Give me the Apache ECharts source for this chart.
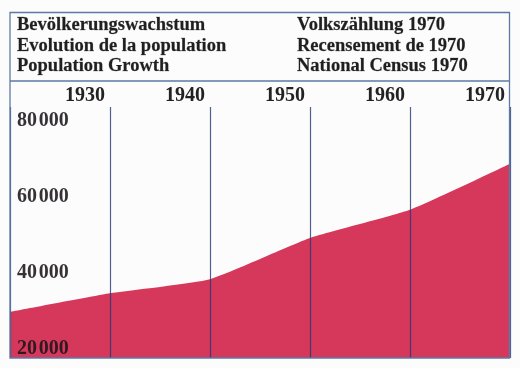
<!DOCTYPE html>
<html>
<head>
<meta charset="utf-8">
<script src="https://cdn.jsdelivr.net/npm/echarts@6/dist/echarts.min.js"></script>
<style>
html,body{margin:0;padding:0;background:#fcfcfc;}
#c{width:520px;height:368px;}
</style>
</head>
<body>
<div id="c"></div>
<script>
// Data
var years = [1920, 1930, 1940, 1950, 1960, 1970];
var population = [29700, 34600, 38300, 49100, 56500, 68600];
var yearTicks = [1930, 1940, 1950, 1960, 1970];
var valueTicks = [20000, 40000, 60000, 80000];
var headerLeft = ['Bevölkerungswachstum', 'Evolution de la population', 'Population Growth'];
var headerRight = ['Volkszählung 1970', 'Recensement de 1970', 'National Census 1970'];

var seriesData = years.map(function (y, i) { return [y, population[i]]; });
var FONT = '"Liberation Serif", "Times New Roman", serif';
var BORDER = '#5d7aa6';
var headStyle = {fontFamily: FONT, fontWeight: 'bold', fontSize: 18.5, lineHeight: 20.5, color: '#1f1f1f',
  textBorderColor: 'rgba(31,31,31,0.5)', textBorderWidth: 0.4};

var chart = echarts.init(document.getElementById('c'), null, {renderer: 'canvas'});
chart.setOption({
  backgroundColor: '#fcfcfc',
  animation: false,
  title: [
    {text: headerLeft.join('\n'), left: 12, top: 10, textStyle: headStyle},
    {text: headerRight.join('\n'), left: 292, top: 10, textStyle: headStyle}
  ],
  grid: {left: 10, right: 10, top: 107, bottom: 10, containLabel: false},
  xAxis: {
    type: 'value', position: 'top', min: 1920, max: 1970, interval: 10, z: 5,
    axisLine: {show: false}, axisTick: {show: false},
    splitLine: {show: true, lineStyle: {color: 'rgba(35,55,120,0.8)', width: 1.2}},
    axisLabel: {
      customValues: yearTicks, align: 'right', margin: 1, padding: [0, 5, 0, 0],
      fontFamily: FONT, fontWeight: 'bold', fontSize: 20, color: '#222',
      formatter: function (v) { return String(v); }
    }
  },
  yAxis: {
    type: 'value', min: 17600, max: 83500, z: 5,
    axisLine: {show: false}, axisTick: {show: false}, splitLine: {show: false},
    axisLabel: {
      customValues: valueTicks, inside: true, margin: 7,
      fontFamily: FONT, fontWeight: 'bold', fontSize: 20, color: 'rgba(25,20,25,0.88)',
      formatter: function (v) { return String(v / 1000) + '\u200A000'; }
    }
  },
  series: [{
    type: 'line', data: seriesData, symbol: 'none', smooth: 0.15, z: 2,
    lineStyle: {width: 0},
    areaStyle: {color: '#d5385a', opacity: 1, origin: 'start'}
  }],
  graphic: [
    {type: 'rect', shape: {x: 10, y: 12.5, width: 499.5, height: 345.5},
      style: {fill: null, stroke: BORDER, lineWidth: 1.3}, z: 10},
    {type: 'line', shape: {x1: 10, y1: 81, x2: 509.5, y2: 81},
      style: {stroke: BORDER, lineWidth: 1.3}, z: 10}
  ]
});
</script>
</body>
</html>
